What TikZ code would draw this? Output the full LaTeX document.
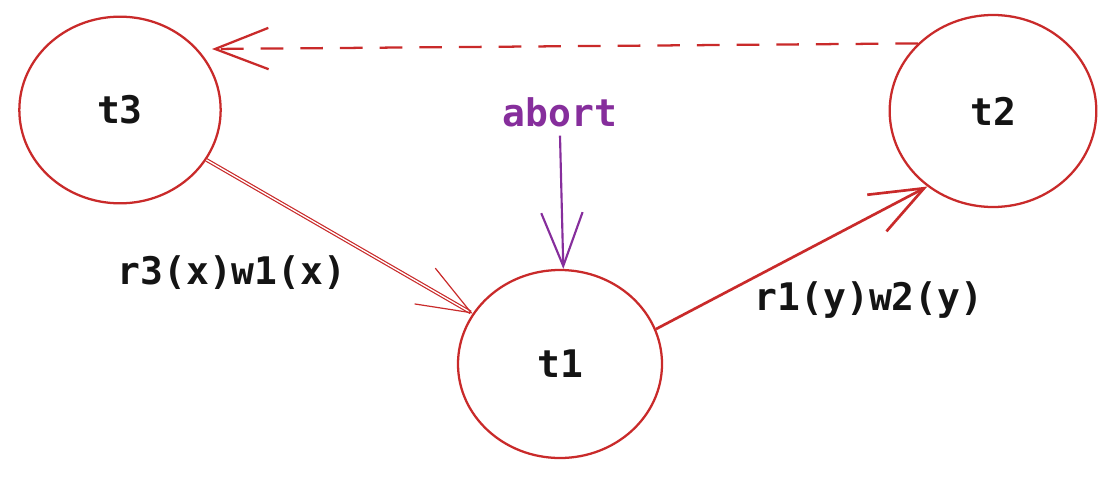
\documentclass[tikz,border=0pt]{standalone}
\usepackage{fontspec}
\usetikzlibrary{shapes.geometric,arrows.meta}
\newfontfamily\monofont{DejaVu Sans Mono}
\definecolor{sred}{HTML}{C92A2A}
\definecolor{spurple}{HTML}{862E9C}
\definecolor{sink}{HTML}{141414}
\begin{document}
\begin{tikzpicture}[x=0.75pt,y=-0.75pt,
  txn/.style={ellipse,draw=sred,line width=1.7pt,inner sep=0pt},
  lbl/.style={font=\monofont\bfseries\fontsize{28.5}{32}\selectfont,text=sink},
  barb/.style={-{Straight Barb[length=40pt,width=31pt]}},
  conn/.style={draw=sred,barb}]
\useasboundingbox[fill=white] (0,0) rectangle (1116,478);
\node[txn,minimum width=151pt,minimum height=140pt] (t3) at (120,110) {};
\node[txn,minimum width=155pt,minimum height=144pt] (t2) at (993,111) {};
\node[txn,minimum width=153pt,minimum height=141pt] (t1) at (560,364) {};
\node[lbl] (t3l) at (t3) {t3};
\node[lbl] (t2l) at (t2) {t2};
\node[lbl] (t1l) at (t1) {t1};
\node[lbl,text=spurple,inner sep=6.5pt] (abort) at (560,112) {abort};
\node[lbl] (e31) at (232,273) {r3(x)w1(x)};
\node[lbl] (e12) at (869,300) {r1(y)w2(y)};
\coordinate (t3in) at (212,49);
\draw[conn,line width=1.7pt,dash pattern=on 17pt off 12.75pt] (t2.138) -- (t3in);
\draw[conn,line width=0.9pt,double,double distance=1pt] (t3) -- (t1);
\draw[conn,line width=2pt] (t1.20) -- (t2.229);
\draw[draw=spurple,barb,line width=1.6pt] (abort.south) -- (t1.88);
\end{tikzpicture}
\end{document}
